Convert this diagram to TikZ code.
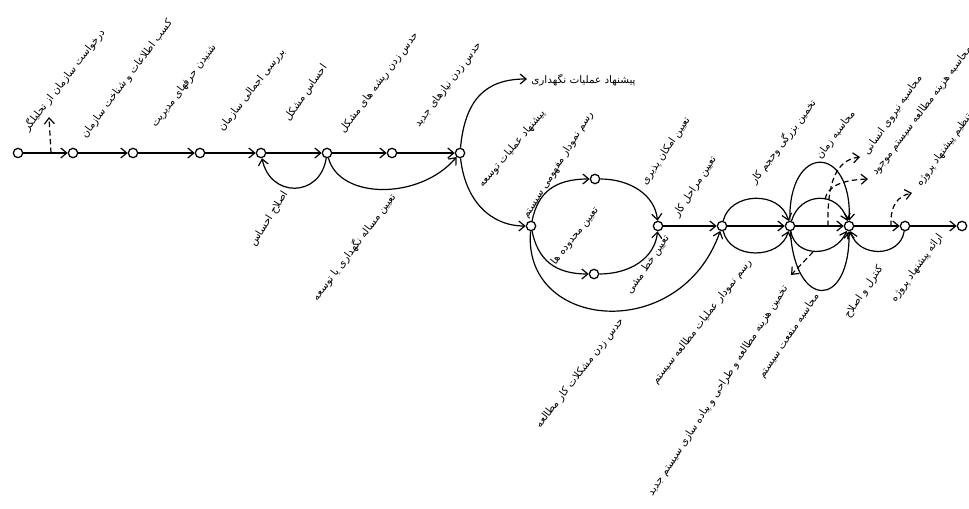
\documentclass[tikz,border=0pt]{standalone}
\usepackage{fontspec}
\newfontfamily\arabicfont[Script=Arabic]{DejaVu Sans}
\TeXXeTstate=1
\usetikzlibrary{arrows.meta}
\newcommand{\fa}[1]{\beginR #1\endR}
\begin{document}
\begin{tikzpicture}[x=0.75pt,y=-0.75pt,
  st/.style={circle,draw,line width=0.95pt,inner sep=0pt,minimum size=7pt},
  ln/.style={line width=0.9pt,-{Straight Barb[length=4.5pt,width=7.5pt]}},
  dsh/.style={ln,dash pattern=on 4pt off 2.5pt},
  lb/.style={font=\arabicfont\fontsize{7.8}{8}\selectfont,inner sep=0pt}]
\useasboundingbox (0,0) rectangle (969,509);
% states
\node[st] (n1) at (18,153) {};
\node[st] (n2) at (73,153) {};
\node[st] (n3) at (133,153) {};
\node[st] (n4) at (200,153) {};
\node[st] (n5) at (261,153) {};
\node[st] (n6) at (327,153) {};
\node[st] (n7) at (392,153) {};
\node[st] (n8) at (460,153) {};
\node[st] (n9) at (531,226) {};
\node[st] (n10) at (595,179) {};
\node[st] (n11) at (594,274) {};
\node[st] (n12) at (658,226) {};
\node[st] (n13) at (722,226) {};
\node[st] (n14) at (790,226) {};
\node[st] (n15) at (849,226) {};
\node[st] (n16) at (905,226) {};
\node[st] (n17) at (962,226) {};
\coordinate (pn) at (527,79);
% straight activities
\draw[ln] (n1) -- (n2);
\draw[ln] (n2) -- (n3);
\draw[ln] (n3) -- (n4);
\draw[ln] (n4) -- (n5);
\draw[ln] (n5) -- (n6);
\draw[ln] (n6) -- (n7);
\draw[ln] (n7) -- (n8);
\draw[ln] (n12) -- (n13);
\draw[ln] (n13) -- (n14);
\draw[ln] (n14) -- (n15);
\draw[ln] (n15) -- (n16);
\draw[ln] (n16) -- (n17);
% curved activities
\draw[ln] (n6) .. controls (320,198) and (270,198) .. (n5);
\draw[ln] (n6) .. controls (340,200) and (420,200) .. (n8);
\draw[ln] (n8) .. controls (465,100) and (485,79) .. (pn);
\draw[ln] (n8) .. controls (465,200) and (490,226) .. (n9);
\draw[ln] (n9) .. controls (538,192) and (555,179) .. (n10);
\draw[ln] (n9) .. controls (538,260) and (555,274) .. (n11);
\draw[ln] (n10) .. controls (630,179) and (655,195) .. (n12);
\draw[ln] (n11) .. controls (630,274) and (655,258) .. (n12);
\draw[ln] (n9) .. controls (522,330) and (680,345) .. (n13);
\draw[ln] (n13) .. controls (730,192) and (780,190) .. (n14);
\draw[ln] (n13) .. controls (730,260) and (780,260) .. (n14);
\draw[ln] (n14) .. controls (800,192) and (838,190) .. (n15);
\draw[ln] (n14) .. controls (788,143) and (852,143) .. (n15);
\draw[ln] (n14) .. controls (795,258) and (835,258) .. (n15);
\draw[ln] (n14) .. controls (795,310) and (850,310) .. (n15);
\draw[ln] (n16) .. controls (900,258) and (858,258) .. (n15);
% dashed pointers
\coordinate (d0) at (51,153); \coordinate (d0e) at (49,117);
\draw[dsh] (d0) -- (d0e);
\coordinate (d1) at (828,226); \coordinate (d1e) at (860,157);
\draw[dsh] (d1) .. controls (827,185) and (835,160) .. (d1e);
\coordinate (d2) at (825,199); \coordinate (d2e) at (868,179);
\draw[dsh] (d2) .. controls (828,186) and (842,180) .. (d2e);
\coordinate (d3) at (891,226); \coordinate (d3e) at (912,193);
\draw[dsh] (d3) .. controls (890,205) and (898,196) .. (d3e);
\coordinate (d4) at (813,252); \coordinate (d4e) at (791,275);
\draw[dsh] (d4) -- (d4e);
% labels
\node[lb,rotate=52] (l1) at (64,80) {\fa{درخواست سازمان از تحلیلگر}};
\node[lb,rotate=53] (l2) at (127,79) {\fa{کسب اطلاعات و شناخت سازمان}};
\node[lb,rotate=53] (l3) at (184,86) {\fa{شنیدن حرفهای مدیریت}};
\node[lb,rotate=52] (l4) at (252,90) {\fa{بررسی اجمالی سازمان}};
\node[lb,rotate=55] (l5) at (306,93) {\fa{احساس مشکل}};
\node[lb,rotate=53] (l6) at (379,83) {\fa{حدس زدن ریشه های مشکل}};
\node[lb,rotate=53] (l7) at (448,85) {\fa{حدس زدن نیازهای جدید}};
\node[lb,anchor=west] (l8) at (531,80) {\fa{پیشنهاد عملیات نگهداری}};
\node[lb,rotate=50] (l9) at (512,149) {\fa{پیشنهاد عملیات توسعه}};
\node[lb,rotate=58] (l10) at (558,165) {\fa{رسم نمودار مفهومی سیستم}};
\node[lb,rotate=56] (l11) at (666,151) {\fa{تعیین امکان پذیری}};
\node[lb,rotate=57] (l12) at (695,187) {\fa{تعیین مراحل کار}};
\node[lb,rotate=52] (l13) at (575,236) {\fa{تعیین محدوده ها}};
\node[lb,rotate=56] (l14) at (648,265) {\fa{تعیین خط مشی}};
\node[lb,rotate=52] (l15) at (580,373) {\fa{حدس زدن مشکلات کار مطالعه}};
\node[lb,rotate=52] (l16) at (702,322) {\fa{رسم نمودار عملیات مطالعه سیستم}};
\node[lb,rotate=57] (l17) at (718,391) {\fa{تخمین هزینه مطالعه و طراحی و پیاده سازی سیستم جدید}};
\node[lb,rotate=56] (l18) at (789,336) {\fa{محاسبه منفعت سیستم}};
\node[lb,rotate=56] (l19) at (864,292) {\fa{کنترل و اصلاح}};
\node[lb,rotate=54] (l20) at (917,268) {\fa{ارائه پیشنهاد پروژه}};
\node[lb,rotate=53] (l21) at (783,142) {\fa{تخمین بزرگی وحجم کار}};
\node[lb,rotate=53] (l22) at (836,135) {\fa{محاسبه زمان}};
\node[lb,rotate=55] (l23) at (893,115) {\fa{محاسبه نیروی انسانی}};
\node[lb,rotate=53] (l24) at (922,111) {\fa{محاسبه هزینه مطالعه سیستم موجود}};
\node[lb,rotate=54] (l25) at (944,150) {\fa{تنظیم پیشنهاد پروژه}};
\node[lb,rotate=58] (l26) at (269,219) {\fa{اصلاح احساس}};
\node[lb,rotate=53] (l27) at (354,247) {\fa{تعیین مساله نگهداری یا توسعه}};
\end{tikzpicture}
\end{document}
